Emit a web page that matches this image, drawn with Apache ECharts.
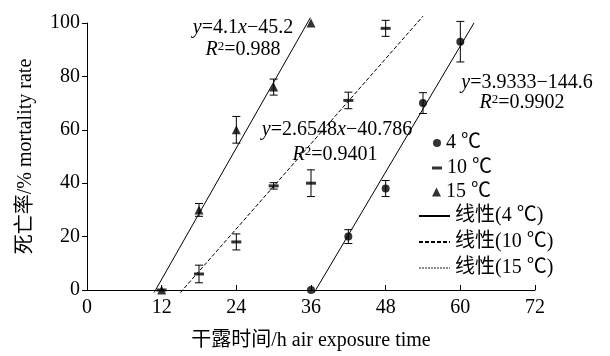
<!DOCTYPE html>
<html>
<head>
<meta charset="utf-8">
<script src="https://cdn.jsdelivr.net/npm/echarts@6/dist/echarts.min.js"></script>
<style>
  html, body { margin: 0; padding: 0; background: #fff; }
  #chart { width: 610px; height: 356px; }
</style>
</head>
<body>
<div id="chart"></div>
<script>
// Mortality (%) versus air-exposure time (h) at three temperatures
const seriesNames = ['4 ℃', '10 ℃', '15 ℃'];
const fitNames = ['线性(4 ℃)', '线性(10 ℃)', '线性(15 ℃)'];

const hours4 = [36, 42, 48, 54, 60];
const mortality4 = [0, 20, 38, 70, 93];
const error4 = [0, 2.6, 3, 3.9, 7.6];

const hours10 = [12, 18, 24, 30, 36, 42, 48];
const mortality10 = [0, 6, 18, 39, 40, 71, 98];
const error10 = [0, 3.3, 3, 1.2, 5, 3.1, 3];

const hours15 = [12, 18, 24, 30, 36];
const mortality15 = [0, 30, 60, 76, 100];
const error15 = [0, 2.4, 5, 3, 0];

// Linear fits: y = slope * x + intercept, drawn over the given hour span
const fitSlope = [3.9333, 2.6548, 4.1];
const fitIntercept = [-144.6, -40.786, -45.2];
const fitSpan = [[36.5, 62.2], [15.0, 54.0], [10.8, 35.9]];
const fitEquations = ['{i|y}=3.9333−144.6', '{i|y}=2.6548{i|x}−40.786', '{i|y}=4.1{i|x}−45.2'];
const fitR2 = ['0.9902', '0.9401', '0.988'];

const xTicks = [0, 12, 24, 36, 48, 60, 72];
const yTicks = [0, 20, 40, 60, 80, 100];

const FONT = '"Liberation Serif", "Times New Roman", "Noto Sans CJK SC", serif';
const groups = [
  { h: hours4, m: mortality4, e: error4, symbol: 'circle', size: 8 },
  { h: hours10, m: mortality10, e: error10, symbol: 'rect', size: [10, 3] },
  { h: hours15, m: mortality15, e: error15, symbol: 'triangle', size: 9 }
];

function errorBarItem(params, api) {
  const x = api.value(0), lo = api.value(1), hi = api.value(2);
  if (hi - lo <= 0) return null;
  const top = api.coord([x, hi]);
  const bot = api.coord([x, lo]);
  const cap = 4;
  const st = { stroke: '#000', lineWidth: 1 };
  return {
    type: 'group',
    children: [
      { type: 'line', shape: { x1: top[0], y1: top[1], x2: bot[0], y2: bot[1] }, style: st },
      { type: 'line', shape: { x1: top[0] - cap, y1: top[1], x2: top[0] + cap, y2: top[1] }, style: st },
      { type: 'line', shape: { x1: bot[0] - cap, y1: bot[1], x2: bot[0] + cap, y2: bot[1] }, style: st }
    ]
  };
}

const series = [];
groups.forEach((g, k) => {
  series.push({
    name: seriesNames[k] + ' error',
    type: 'custom',
    renderItem: errorBarItem,
    clip: false,
    encode: { x: 0, y: [1, 2] },
    data: g.h.map((h, i) => [h, g.m[i] - g.e[i], g.m[i] + g.e[i]]),
    z: 3,
    silent: true
  });
  series.push({
    name: seriesNames[k],
    type: 'scatter',
    symbol: g.symbol,
    symbolSize: g.size,
    itemStyle: { color: '#000' },
    clip: false,
    data: g.h.map((h, i) => [h, g.m[i]]),
    z: 4
  });
});

const fitStyles = [
  { color: '#000', width: 1, type: 'solid' },
  { color: '#000', width: 1, type: [4, 2] },
  { color: '#000', width: 1, type: 'solid' }
];
fitNames.forEach((name, k) => {
  series.push({
    name: name,
    type: 'line',
    symbol: 'none',
    clip: false,
    lineStyle: fitStyles[k],
    itemStyle: { color: 'rgba(0,0,0,0)' },
    data: fitSpan[k].map(x => [x, fitSlope[k] * x + fitIntercept[k]]),
    z: 2,
    silent: true
  });
});

const textBase = { fontFamily: FONT, fontSize: 20, color: '#000' };
const rich = {
  i: { fontFamily: FONT, fontSize: 20, fontStyle: 'italic', fill: '#000' },
  sup: { fontFamily: FONT, fontSize: 13, fill: '#000', verticalAlign: 'top', lineHeight: 14 }
};
// Equation annotation centres (px) for the 4, 10 and 15 ℃ fits
const eqAt = [[527, 83], [337, 130], [243, 28]];
const r2At = [[522, 103], [335, 155], [243, 50]];
const graphic = [];
for (let k = 0; k < 3; k++) {
  graphic.push({
    type: 'text', x: eqAt[k][0], y: eqAt[k][1], z: 10,
    style: { text: fitEquations[k], rich: rich, fontFamily: FONT, fontSize: 20, fill: '#000', align: 'center', verticalAlign: 'middle' }
  });
  graphic.push({
    type: 'text', x: r2At[k][0], y: r2At[k][1], z: 10,
    style: { text: '{i|R}{sup|2}=' + fitR2[k], rich: rich, fontFamily: FONT, fontSize: 20, fill: '#000', align: 'center', verticalAlign: 'middle' }
  });
}

const legendText = { fontFamily: FONT, fontSize: 20, color: '#000', lineHeight: 20 };
const option = {
  animation: false,
  backgroundColor: '#fff',
  grid: { left: 87, right: 75, top: 23, bottom: 62 },
  legend: [
    { data: [seriesNames[0]], left: 433, top: 133, itemWidth: 8, itemHeight: 8, itemTextGap: 19, selectedMode: false, textStyle: legendText, padding: 0 },
    { data: [seriesNames[1]], left: 432, top: 158, itemWidth: 10, itemHeight: 3, itemTextGap: 18, selectedMode: false, textStyle: legendText, padding: 0 },
    { data: [seriesNames[2]], left: 432, top: 182, itemWidth: 9, itemHeight: 9, itemTextGap: 19, selectedMode: false, textStyle: legendText, padding: 0 },
    {
      data: [
        { name: fitNames[0] },
        { name: fitNames[1] },
        { name: fitNames[2], lineStyle: { color: '#666', type: [2, 1], width: 1.5 } }
      ],
      orient: 'vertical', left: 418, top: 206, itemWidth: 31, itemHeight: 10, itemGap: 6, itemTextGap: 10,
      selectedMode: false, textStyle: legendText, padding: 0
    }
  ],
  xAxis: {
    type: 'value', min: xTicks[0], max: xTicks[xTicks.length - 1], interval: xTicks[1] - xTicks[0],
    name: '干露时间/h air exposure time', nameLocation: 'middle', nameGap: 41,
    nameTextStyle: textBase,
    axisLine: { lineStyle: { color: '#000', width: 1 } },
    axisTick: { inside: true, length: 5, lineStyle: { color: '#000' } },
    axisLabel: Object.assign({ margin: 8 }, textBase),
    splitLine: { show: false }
  },
  yAxis: {
    type: 'value', min: yTicks[0], max: yTicks[yTicks.length - 1], interval: yTicks[1] - yTicks[0],
    name: '死亡率/% mortality rate', nameLocation: 'middle', nameGap: 51,
    nameTextStyle: textBase,
    axisLine: { show: true, lineStyle: { color: '#000', width: 1 } },
    axisTick: { show: true, inside: false, length: 5, lineStyle: { color: '#000' } },
    axisLabel: Object.assign({ margin: 7 }, textBase),
    splitLine: { show: false }
  },
  graphic: graphic,
  series: series
};

const chart = echarts.init(document.getElementById('chart'), null, { renderer: 'canvas' });
chart.setOption(option);
</script>
</body>
</html>
